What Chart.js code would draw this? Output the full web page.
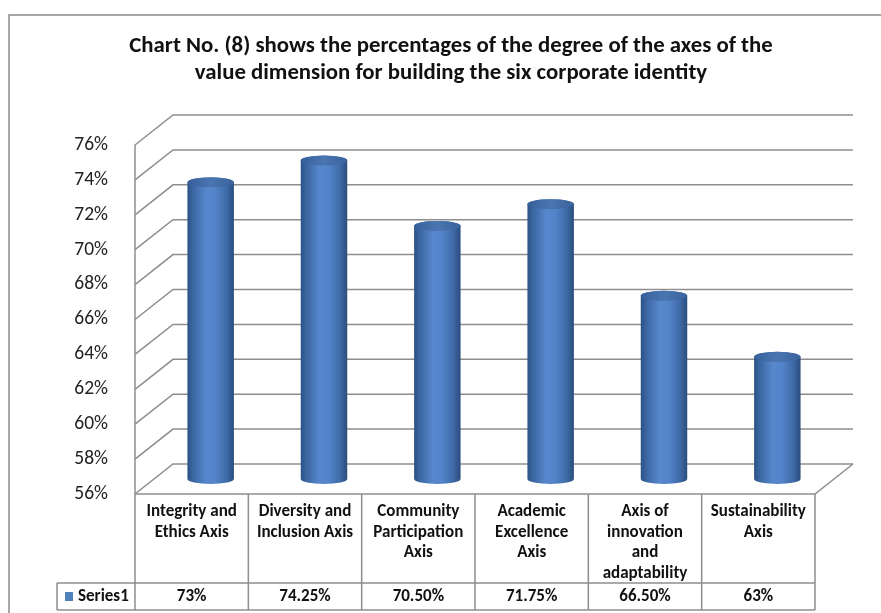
<!DOCTYPE html>
<html>
<head>
<meta charset="utf-8">
<script src="https://cdn.jsdelivr.net/npm/chart.js@4.4.0/dist/chart.umd.min.js"></script>
<style>
  html, body { margin: 0; background: #fff; }
  canvas { display: block; }
</style>
</head>
<body>
<canvas id="chart" width="881" height="613"></canvas>
<script>
// Chart No. (8) - cylinder chart with data table

const titleLines = [
  'Chart No. (8) shows the percentages of the degree of the axes of the',
  'value dimension for building the six corporate identity',
];

// each category is split into the lines shown in the table cell
const categories = [
  ['Integrity and', 'Ethics Axis'],
  ['Diversity and', 'Inclusion Axis'],
  ['Community', 'Participation', 'Axis'],
  ['Academic', 'Excellence', 'Axis'],
  ['Axis of', 'innovation', 'and', 'adaptability'],
  ['Sustainability', 'Axis'],
];

const seriesName = 'Series1';
const values = [73, 74.25, 70.5, 71.75, 66.5, 63];
const valueLabels = ['73%', '74.25%', '70.50%', '71.75%', '66.50%', '63%'];

const yMin = 56;
const yMax = 76;
const yStep = 2;

const FONT = 'Carlito, Calibri, Lato, sans-serif';
const GRID = '#8e8e8e';
// offset of the back wall from the front plane
const DEPTH_X = 38;
const DEPTH_Y = 30;

const wallPlugin = {
  id: 'wall3d',
  beforeDatasetsDraw(chart) {
    const { ctx, chartArea, scales } = chart;
    const y = scales.y;
    const backRight = chartArea.right + DEPTH_X;
    ctx.save();
    ctx.strokeStyle = GRID;
    ctx.lineWidth = 1.5;
    y.ticks.forEach((t) => {
      const yf = y.getPixelForValue(t.value);
      ctx.beginPath();
      ctx.moveTo(chartArea.left, yf);
      ctx.lineTo(chartArea.left + DEPTH_X, yf - DEPTH_Y);
      ctx.lineTo(backRight, yf - DEPTH_Y);
      ctx.stroke();
    });
    // front left edge
    ctx.beginPath();
    ctx.moveTo(chartArea.left, y.getPixelForValue(yMax));
    ctx.lineTo(chartArea.left, y.getPixelForValue(yMin));
    ctx.stroke();
    // floor front + right edge
    const yb = y.getPixelForValue(yMin);
    ctx.beginPath();
    ctx.moveTo(chartArea.left, yb);
    ctx.lineTo(chartArea.right, yb);
    ctx.lineTo(backRight, yb - DEPTH_Y);
    ctx.stroke();
    ctx.restore();
  },
};

const cylinderPlugin = {
  id: 'cylinders',
  afterDatasetsDraw(chart) {
    const { ctx, scales } = chart;
    const meta = chart.getDatasetMeta(0);
    const base = scales.y.getPixelForValue(yMin);
    const ry = 5;
    ctx.save();
    meta.data.forEach((bar) => {
      const cx = bar.x + DEPTH_X / 2;
      const r = bar.width / 2;
      const top = bar.y - DEPTH_Y / 2;
      const bottom = base - DEPTH_Y / 2;

      const g = ctx.createLinearGradient(cx - r, 0, cx + r, 0);
      g.addColorStop(0, '#2c5283');
      g.addColorStop(0.12, '#3a66a1');
      g.addColorStop(0.4, '#5787cc');
      g.addColorStop(0.6, '#5384c9');
      g.addColorStop(0.85, '#3e69a6');
      g.addColorStop(1, '#2a4d7c');

      ctx.beginPath();
      ctx.moveTo(cx - r, top);
      ctx.lineTo(cx - r, bottom);
      ctx.ellipse(cx, bottom, r, ry, 0, Math.PI, 0, true);
      ctx.lineTo(cx + r, top);
      ctx.ellipse(cx, top, r, ry, 0, 0, Math.PI, true);
      ctx.closePath();
      ctx.fillStyle = g;
      ctx.fill();

      const gt = ctx.createLinearGradient(cx - r, 0, cx + r, 0);
      gt.addColorStop(0, '#36609a');
      gt.addColorStop(0.5, '#4a75b0');
      gt.addColorStop(1, '#3a639c');
      ctx.beginPath();
      ctx.ellipse(cx, top, r, ry, 0, 0, Math.PI * 2);
      ctx.fillStyle = gt;
      ctx.fill();
    });
    ctx.restore();
  },
};

const tablePlugin = {
  id: 'dataTable',
  afterDraw(chart) {
    const { ctx, chartArea, scales } = chart;
    const x = scales.x;
    const left = chartArea.left;
    const right = chartArea.right;
    const top = chartArea.bottom;
    const rowSplit = top + 89;
    const bottom = top + 116;
    const legendLeft = 57;
    const colW = (right - left) / categories.length;

    ctx.save();
    ctx.strokeStyle = GRID;
    ctx.lineWidth = 1.5;
    ctx.beginPath();
    for (let i = 0; i <= categories.length; i++) {
      const xx = left + colW * i;
      ctx.moveTo(xx, top);
      ctx.lineTo(xx, bottom);
    }
    ctx.moveTo(legendLeft, rowSplit);
    ctx.lineTo(right, rowSplit);
    ctx.moveTo(legendLeft, bottom);
    ctx.lineTo(right, bottom);
    ctx.moveTo(legendLeft, rowSplit);
    ctx.lineTo(legendLeft, bottom);
    ctx.stroke();

    ctx.fillStyle = '#111';
    ctx.font = 'bold 17px ' + FONT;
    ctx.textAlign = 'center';
    ctx.textBaseline = 'middle';
    categories.forEach((lines, i) => {
      const cx = x.getPixelForValue(i);
      lines.forEach((line, j) => {
        ctx.fillText(line, cx, top + 18 + j * 20.5);
      });
      ctx.fillText(valueLabels[i], cx, rowSplit + 14);
    });

    // legend key
    ctx.fillStyle = '#4f81bd';
    ctx.fillRect(65, rowSplit + 9, 8, 9);
    ctx.fillStyle = '#111';
    ctx.textAlign = 'left';
    ctx.fillText(seriesName, 78, rowSplit + 14);
    ctx.restore();
  },
};

const framePlugin = {
  id: 'frame',
  beforeDraw(chart) {
    const { ctx } = chart;
    ctx.save();
    ctx.fillStyle = '#fff';
    ctx.fillRect(0, 0, chart.width, chart.height);
    ctx.strokeStyle = '#8a8a8a';
    ctx.lineWidth = 1.5;
    ctx.strokeRect(9, 15, 1000, 1000);
    ctx.restore();
  },
  afterDraw(chart) {
    const { ctx } = chart;
    ctx.save();
    ctx.fillStyle = '#111';
    ctx.font = 'bold 22.8px ' + FONT;
    ctx.textAlign = 'center';
    ctx.textBaseline = 'middle';
    titleLines.forEach((line, i) => ctx.fillText(line, 451, 46 + i * 27));
    ctx.restore();
  },
};

new Chart(document.getElementById('chart'), {
  type: 'bar',
  data: {
    labels: categories,
    datasets: [{
      label: seriesName,
      data: values,
      backgroundColor: 'rgba(0,0,0,0)',
      borderWidth: 0,
      barPercentage: 0.41,
      categoryPercentage: 1,
    }],
  },
  options: {
    responsive: false,
    animation: false,
    layout: { padding: { left: 0, top: 145, right: 66, bottom: 119 } },
    plugins: {
      legend: { display: false },
      title: { display: false },
      tooltip: { enabled: false },
    },
    scales: {
      x: { display: false },
      y: {
        min: yMin,
        max: yMax,
        afterFit: (s) => { s.width = 135; },
        grid: { display: false },
        border: { display: false },
        ticks: {
          stepSize: yStep,
          padding: 19,
          color: '#222',
          font: { family: FONT, size: 19.5 },
          callback: (v) => v + '%',
        },
      },
    },
  },
  plugins: [framePlugin, wallPlugin, cylinderPlugin, tablePlugin],
});
</script>
</body>
</html>
